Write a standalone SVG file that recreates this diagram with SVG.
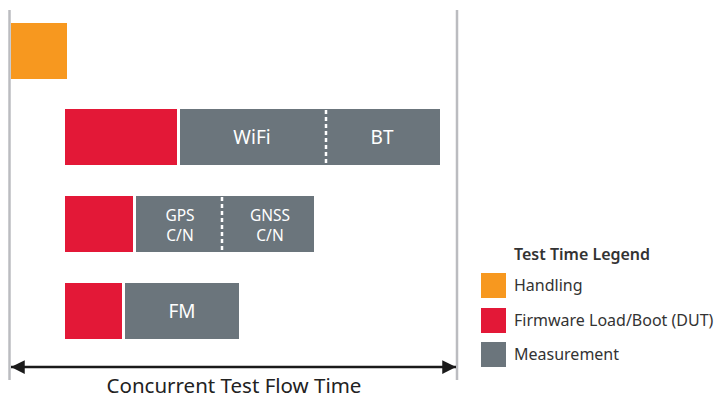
<svg xmlns="http://www.w3.org/2000/svg" width="721" height="399" viewBox="0 0 721 399">
<style>
.h{fill:#f7981f}.f{fill:#e31837}.m{fill:#6b757c}
.t{font-family:"Noto Sans","Open Sans","Liberation Sans",sans-serif;fill:#fff;font-size:19px;text-anchor:middle}
.s{font-family:"Noto Sans","Open Sans","Liberation Sans",sans-serif;fill:#fff;font-size:15.5px;text-anchor:middle}
.l{font-family:"Noto Sans","Open Sans","Liberation Sans",sans-serif;fill:#333;font-size:16px}
.d{stroke:#fff;stroke-width:2.5;stroke-dasharray:4 3}
</style>
<defs>
<marker id="a" viewBox="0 0 10 10" refX="10" refY="5" markerWidth="5.5" markerHeight="5.5" orient="auto-start-reverse" markerUnits="strokeWidth"><path d="M0,0L10,5L0,10z" fill="#1a1a1a"/></marker>
</defs>
<g id="axes">
<line x1="9.5" y1="10" x2="9.5" y2="380" stroke="#bbbcc0" stroke-width="2.5"/>
<line x1="457" y1="10" x2="457" y2="380" stroke="#bbbcc0" stroke-width="2.5"/>
</g>
<g id="handling"><rect class="h" x="11" y="23" width="56" height="56"/></g>
<g id="row1">
<rect class="f" x="65" y="109" width="112" height="56"/>
<rect class="m" x="180" y="109" width="260" height="56"/>
<line class="d" x1="326" y1="110" x2="326" y2="164"/>
<text class="t" x="252" y="144">WiFi</text>
<text class="t" x="382" y="144">BT</text>
</g>
<g id="row2">
<rect class="f" x="65" y="196" width="68" height="56"/>
<rect class="m" x="136" y="196" width="178" height="56"/>
<line class="d" x1="222" y1="197" x2="222" y2="251"/>
<text class="s" x="180" y="221">GPS</text>
<text class="s" x="180" y="241">C/N</text>
<text class="s" x="270" y="221">GNSS</text>
<text class="s" x="270" y="241">C/N</text>
</g>
<g id="row3">
<rect class="f" x="65" y="283" width="57" height="56"/>
<rect class="m" x="125" y="283" width="114" height="56"/>
<text class="t" x="182" y="318">FM</text>
</g>
<g id="connectors">
<line x1="11" y1="367" x2="456" y2="367" stroke="#1a1a1a" stroke-width="2.5" marker-start="url(#a)" marker-end="url(#a)"/>
</g>
<text x="234" y="393" font-family="'Noto Sans','Open Sans','Liberation Sans',sans-serif" font-size="20.5" fill="#222" text-anchor="middle">Concurrent Test Flow Time</text>
<g id="legend">
<text class="l" x="514" y="260" font-weight="600">Test Time Legend</text>
<rect class="h" x="481" y="273" width="25" height="25"/>
<text class="l" x="514" y="291">Handling</text>
<rect class="f" x="481" y="308" width="25" height="25"/>
<text class="l" x="514" y="326">Firmware Load/Boot (DUT)</text>
<rect class="m" x="481" y="342" width="25" height="25"/>
<text class="l" x="514" y="360">Measurement</text>
</g>
</svg>
